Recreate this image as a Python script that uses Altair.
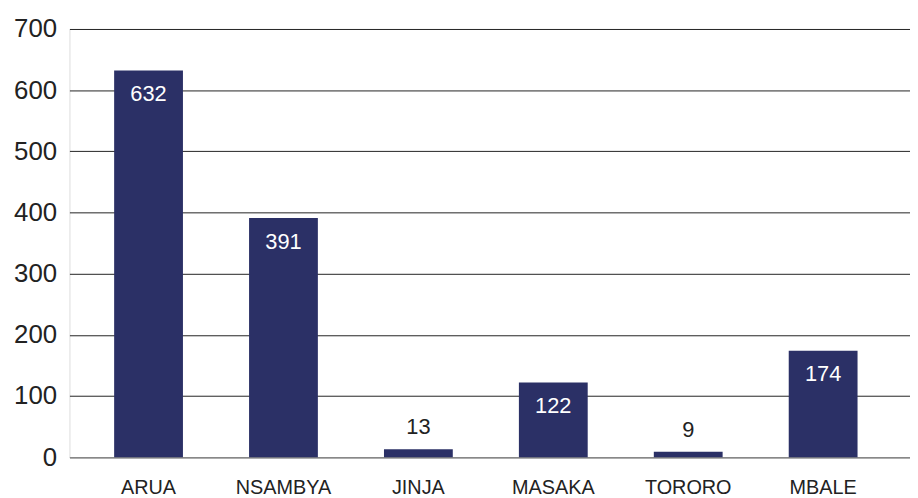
import altair as alt
import pandas as pd

sites = ["ARUA", "NSAMBYA", "JINJA", "MASAKA", "TORORO", "MBALE"]
values = [632, 391, 13, 122, 9, 174]

df = pd.DataFrame({"site": sites, "value": values})
df["inside"] = df["value"] > 50

FONT = "Liberation Sans"
BAR = "#2b3066"

x = alt.X("site:N", sort=sites, title=None,
          scale=alt.Scale(paddingInner=0.49, paddingOuter=0.36, align=0.46),
          axis=alt.Axis(labelAngle=0, labelFontSize=20, labelColor="#222", labelFont=FONT,
                        ticks=False, labelPadding=21, domainColor="#888", domainWidth=1.5))
y = alt.Y("value:Q", title=None,
          scale=alt.Scale(domain=[0, 700], nice=False),
          axis=alt.Axis(values=list(range(0, 701, 100)), labelFontSize=26, labelColor="#222",
                        labelFont=FONT, ticks=False, domain=False, labelPadding=13,
                        gridColor="#222", gridWidth=1))

bars = alt.Chart(df).mark_bar(color=BAR).encode(x=x, y=y)

inside = alt.Chart(df).transform_filter("datum.inside").mark_text(
    baseline="top", dy=14, color="white", fontSize=22, font=FONT
).encode(x=alt.X("site:N", sort=sites), y="value:Q", text="value:Q")

outside = alt.Chart(df).transform_filter("!datum.inside").mark_text(
    baseline="bottom", dy=-10, color="#222", fontSize=22, font=FONT
).encode(x=alt.X("site:N", sort=sites), y="value:Q", text="value:Q")

chart = alt.layer(bars, inside, outside).properties(
    width=848, height=432,
    autosize=alt.AutoSizeParams(type="none"),
    padding={"left": 62, "top": 19, "right": 0, "bottom": 39},
).configure_view(stroke=None).configure(background="white")

chart.save("out.html", embed_options={"renderer": "svg", "actions": False})
